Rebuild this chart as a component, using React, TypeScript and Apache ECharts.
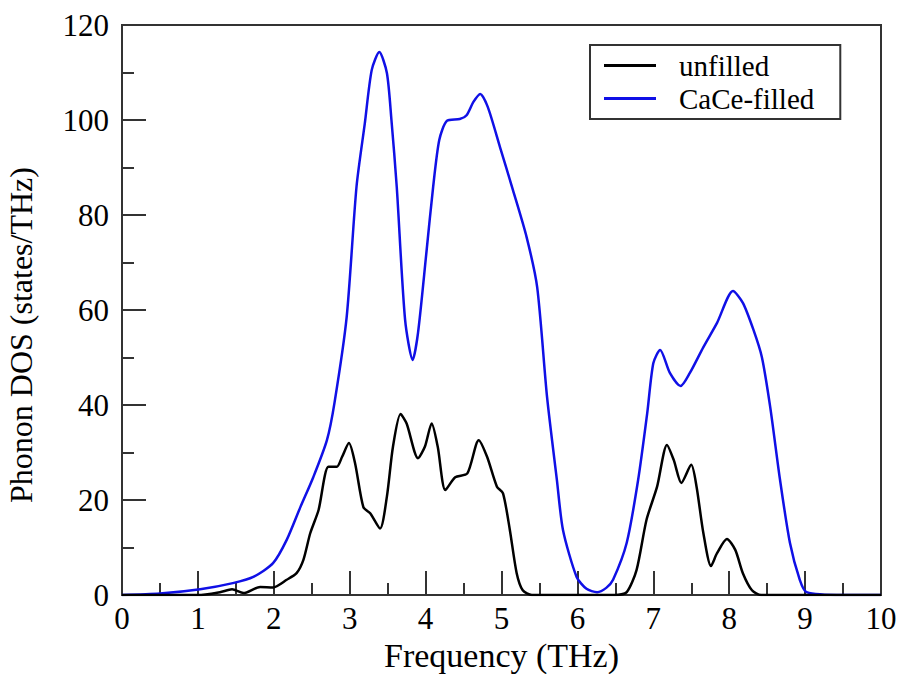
import React, { useEffect, useRef } from "react";
import * as echarts from "echarts";

const blueFreq = [0, 0.5, 1.03, 1.46, 1.73, 1.99, 2.17, 2.35, 2.52, 2.7, 2.8, 2.96, 3.09, 3.2, 3.29, 3.39, 3.49, 3.55, 3.62, 3.73, 3.83, 3.9, 4.01, 4.1, 4.18, 4.28, 4.45, 4.54, 4.63, 4.72, 4.82, 4.98, 5.15, 5.33, 5.47, 5.6, 5.73, 5.81, 5.99, 6.12, 6.26, 6.38, 6.47, 6.65, 6.8, 6.92, 7.0, 7.09, 7.22, 7.36, 7.48, 7.66, 7.84, 8.05, 8.18, 8.32, 8.43, 8.54, 8.67, 8.8, 8.93, 9.02, 9.5, 10];
const blueDos = [0, 0.3, 1.2, 2.5, 3.8, 6.7, 11.6, 18.5, 24.8, 32.6, 40.5, 58.5, 86, 99.4, 110.5, 114.3, 109.9, 100, 85.9, 57.9, 49.5, 55.2, 72, 86, 95.8, 99.8, 100.2, 101, 103.8, 105.5, 102.7, 94.3, 85.3, 75.4, 64.8, 41.7, 24.2, 13.7, 3.8, 1.3, 0.6, 1.5, 3.2, 11, 24.2, 38.3, 48.8, 51.6, 46.7, 44, 46.7, 52.2, 57.3, 64, 61.5, 55.8, 50.1, 39.6, 24.2, 11, 3.2, 0.6, 0, 0];

const blackFreq = [0, 1.0, 1.29, 1.45, 1.6, 1.82, 1.99, 2.17, 2.3, 2.39, 2.48, 2.59, 2.72, 2.83, 2.9, 2.99, 3.07, 3.18, 3.27, 3.4, 3.49, 3.57, 3.67, 3.75, 3.9, 3.99, 4.08, 4.16, 4.26, 4.39, 4.55, 4.7, 4.81, 4.94, 5.02, 5.11, 5.2, 5.28, 5.4, 6.5, 6.65, 6.78, 6.91, 7.05, 7.18, 7.27, 7.37, 7.5, 7.57, 7.66, 7.76, 7.84, 7.97, 8.08, 8.18, 8.3, 8.42, 10];
const blackDos = [0, 0, 0.6, 1.2, 0.4, 1.7, 1.6, 3.2, 4.6, 7.4, 13, 17.9, 27, 27, 29.1, 32, 27.8, 18.5, 17.2, 14, 20.7, 31.2, 38.1, 36.1, 28.8, 31.2, 36.1, 31.2, 22.1, 24.8, 25.6, 32.6, 29.1, 22.8, 21.4, 13.7, 4.6, 1, 0, 0, 0.6, 5.3, 15.8, 22.8, 31.6, 28.4, 23.6, 27.4, 22.8, 13, 6.1, 8.8, 11.8, 9.5, 4.6, 1, 0, 0];

const seriesNames = ["unfilled", "CaCe-filled"];
const xTicks = [0, 10, 1];
const yTicks = [0, 120, 20];

const FONT = "'Liberation Serif', 'DejaVu Serif', 'Times New Roman', serif";

export default function App() {
  const ref = useRef<HTMLDivElement>(null);
  useEffect(() => {
    if (!ref.current) return;
    const chart = echarts.init(ref.current, undefined, { renderer: "svg" });
    const pair = (xs: number[], ys: number[]) => xs.map((x, i) => [x, ys[i]]);
    chart.setOption({
      animation: false,
      backgroundColor: "#fff",
      grid: {
        left: 122,
        right: 20,
        top: 25,
        bottom: 79,
        show: true,
        borderColor: "#333",
        borderWidth: 2,
        containLabel: false,
        outerBoundsMode: "none",
      },
      legend: {
        orient: "vertical",
        left: 590,
        top: 45,
        padding: [6, 26, 6, 14],
        itemGap: 4,
        itemWidth: 52,
        itemHeight: 3,
        icon: "rect",
        borderColor: "#333",
        borderWidth: 2,
        textStyle: { fontFamily: FONT, fontSize: 29, color: "#000", padding: [0, 0, 0, 18] },
        data: seriesNames,
      },
      xAxis: {
        type: "value",
        min: xTicks[0],
        max: xTicks[1],
        interval: xTicks[2],
        name: "Frequency (THz)",
        nameLocation: "middle",
        nameGap: 43,
        nameTextStyle: { fontFamily: FONT, fontSize: 34, color: "#000" },
        axisLine: { show: true, lineStyle: { color: "#333", width: 2 } },
        axisTick: { show: true, inside: true, length: 24, lineStyle: { color: "#333", width: 2 } },
        minorTick: { show: true, splitNumber: 2, length: 12, lineStyle: { color: "#333", width: 2 } },
        splitLine: { show: false },
        axisLabel: { fontFamily: FONT, fontSize: 31, color: "#000", margin: 8 },
      },
      yAxis: {
        type: "value",
        min: yTicks[0],
        max: yTicks[1],
        interval: yTicks[2],
        name: "Phonon DOS (states/THz)",
        nameLocation: "middle",
        nameGap: 85,
        nameTextStyle: { fontFamily: FONT, fontSize: 32, color: "#000", padding: [0, 50, 0, 0] },
        axisLine: { show: true, lineStyle: { color: "#333", width: 2 } },
        axisTick: { show: true, inside: true, length: 24, lineStyle: { color: "#333", width: 2 } },
        minorTick: { show: true, splitNumber: 2, length: 12, lineStyle: { color: "#333", width: 2 } },
        splitLine: { show: false },
        axisLabel: { fontFamily: FONT, fontSize: 31, color: "#000", margin: 13 },
      },
      series: [
        {
          name: seriesNames[0],
          type: "line",
          data: pair(blackFreq, blackDos),
          symbol: "none",
          smooth: 0.25,
          lineStyle: { color: "#000", width: 2.5 },
          itemStyle: { color: "#000" },
          z: 3,
        },
        {
          name: seriesNames[1],
          type: "line",
          data: pair(blueFreq, blueDos),
          symbol: "none",
          smooth: 0.25,
          lineStyle: { color: "#1010e6", width: 2.5 },
          itemStyle: { color: "#1010e6" },
          z: 2,
        },
      ],
    });
    return () => chart.dispose();
  }, []);
  return <div ref={ref} style={{ width: 901, height: 674, position: "absolute", left: 0, top: 0 }} />;
}
